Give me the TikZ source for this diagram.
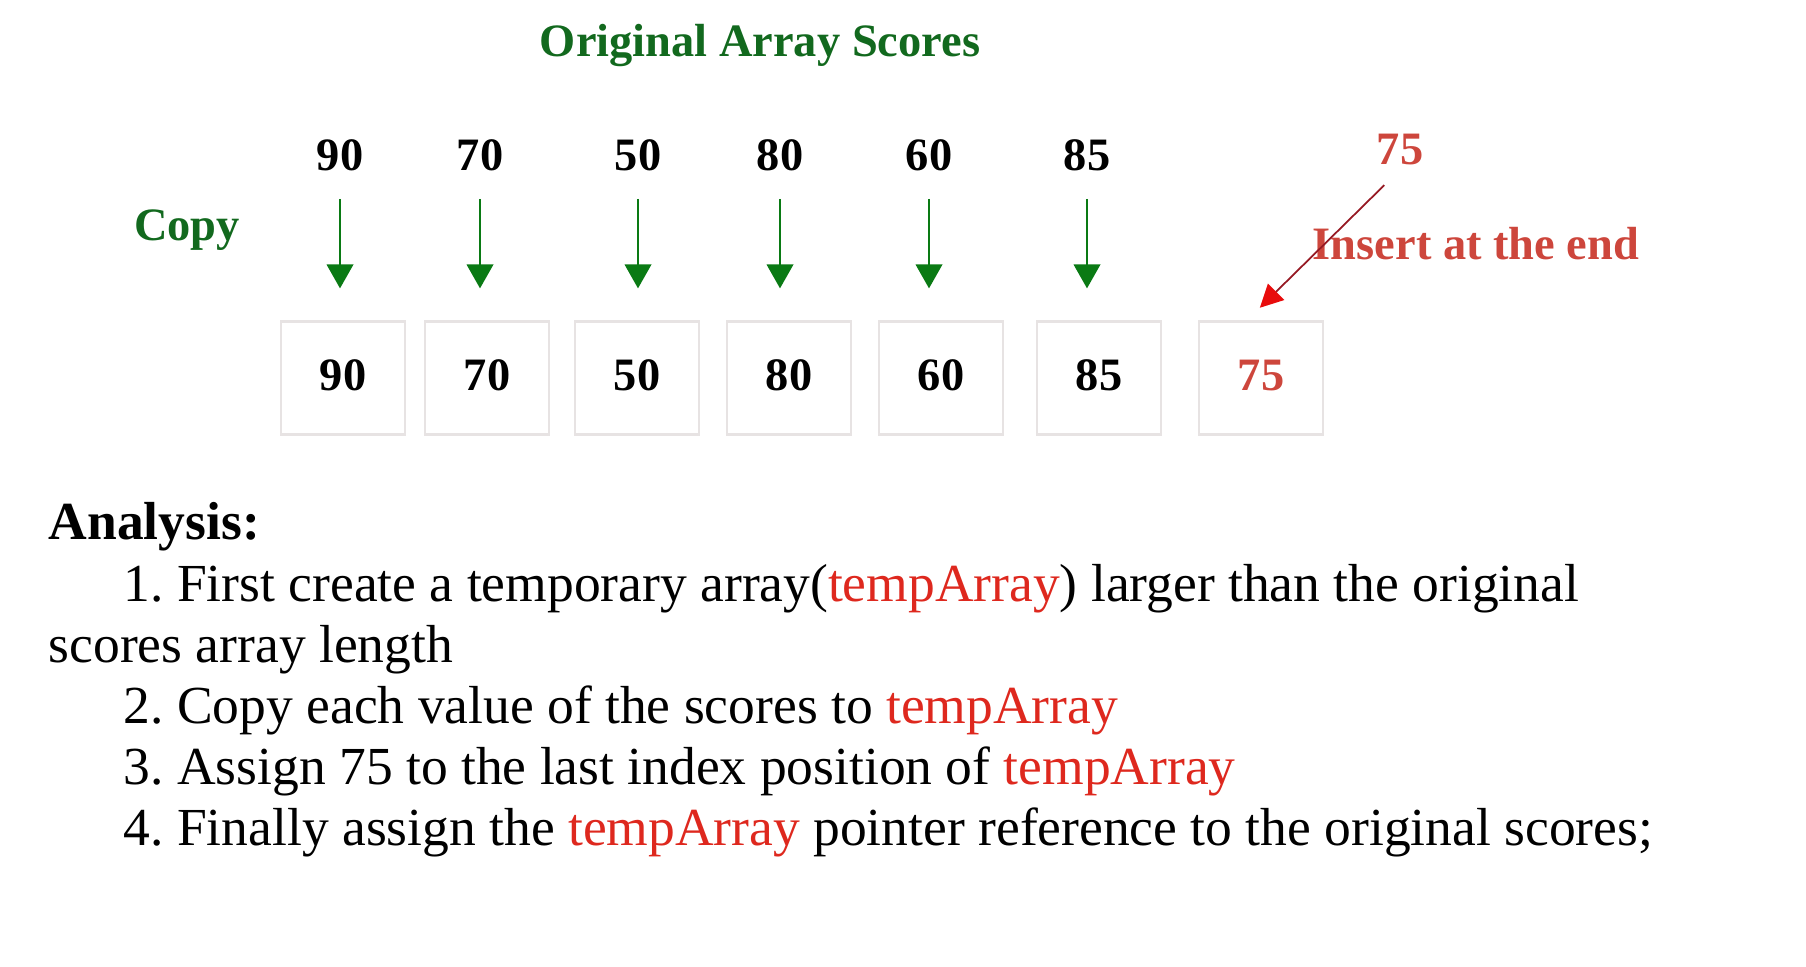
\documentclass[tikz,border=0pt]{standalone}
\usepackage{fontspec}
\setmainfont{Liberation Serif}
\usetikzlibrary{arrows.meta}
\definecolor{copygreen}{RGB}{18,105,30}
\definecolor{arrowgreen}{RGB}{10,122,20}
\definecolor{addred}{RGB}{205,70,60}
\definecolor{addline}{RGB}{150,25,35}
\definecolor{addhead}{RGB}{232,12,12}
\definecolor{tempred}{RGB}{222,40,30}
\definecolor{cellline}{RGB}{231,227,227}
\tikzset{
  topnum/.style={font=\fontsize{13.2}{15}\selectfont\bfseries, inner sep=1pt},
  cell/.style={draw=cellline, line width=0.6pt, minimum width=1.24cm, minimum height=1.13cm,
               inner sep=0pt, text height=8.9pt, text depth=2pt,
               font=\fontsize{13.2}{15}\selectfont\bfseries},
  copyarrow/.style={arrowgreen, line width=0.7pt, -{Triangle[width=7.5pt,length=6.8pt]},
                    shorten <=0.24cm, shorten >=0.32cm},
  addarrow/.style={addline, line width=0.5pt,
                   -{Triangle[width=6.5pt,length=6.5pt,color=addhead]},
                   shorten <=0.22cm, shorten >=0.18cm},
  textline/.style={anchor=base west, inner sep=0pt, font=\fontsize{15.22}{17.4}\selectfont},
}

\begin{document}
\frenchspacing
\begin{tikzpicture}[x=0.01cm, y=-0.01cm]
  \useasboundingbox (0,0) rectangle (1806,966);

  % ---------- heading ----------
  \node[topnum, copygreen] (title) at (760,46) {Original Array Scores};
  \node[topnum, copygreen] (copy)  at (187,230) {Copy};

  % ---------- scores copied into tempArray ----------
  \foreach \v/\xt/\xc [count=\i] in {90/340/343, 70/480/487, 50/638/637,
                                     80/780/789, 60/929/941, 85/1087/1099}{
    \node[topnum] (top\i) at (\xt,155) {\v};
    \node[cell] (cell\i) at (\xc,378) {\v};
    \draw[copyarrow] (top\i.south) -- (top\i.south |- cell\i.north);
  }

  % ---------- new value 75 ----------
  \node[cell, text=addred] (cell7) at (1261,378) {75};
  \node[topnum, addred] (add75) at (1400,150) {75};
  \node[topnum, addred] (insert) at (1476,244) {Insert at the end};
  \draw[addarrow] (add75.south) -- ([xshift=-0.14cm]cell7.north);

  % ---------- analysis ----------
  \node[textline, font=\fontsize{15.22}{17.4}\selectfont\bfseries] (analysis) at (48,539) {Analysis:};
  \node[textline] (step1)  at (123,601) {1. First create a temporary array(\textcolor{tempred}{tempArray}) larger than the original};
  \node[textline] (step1b) at (48,662)  {scores array length};
  \node[textline] (step2)  at (123,723) {2. Copy each value of the scores to \textcolor{tempred}{tempArray}};
  \node[textline] (step3)  at (123,784) {3. Assign 75 to the last index position of \textcolor{tempred}{tempArray}};
  \node[textline] (step4)  at (123,845) {4. Finally assign the \textcolor{tempred}{tempArray} pointer reference to the original scores;};

\end{tikzpicture}
\end{document}
